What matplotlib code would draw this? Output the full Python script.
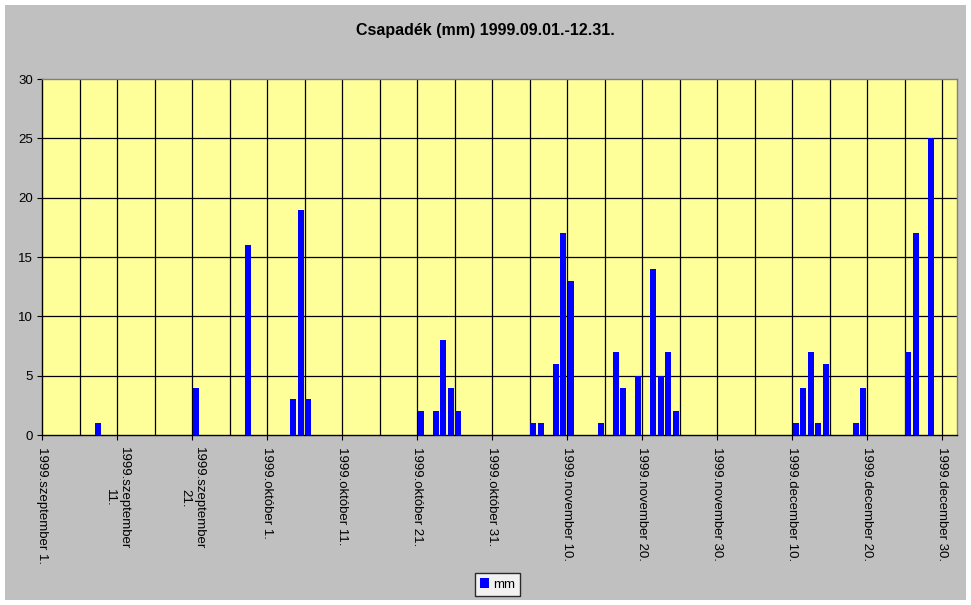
import pandas as pd
import matplotlib.pyplot as plt
from matplotlib.patches import Rectangle

plt.rcParams['font.family'] = ['Liberation Sans', 'DejaVu Sans']

# rainy days (mm), 1999.09.01 - 12.31
rain_dates = ["1999-09-08", "1999-09-21", "1999-09-28",
              "1999-10-04", "1999-10-05", "1999-10-06",
              "1999-10-21", "1999-10-23", "1999-10-24", "1999-10-25", "1999-10-26",
              "1999-11-05", "1999-11-06", "1999-11-08", "1999-11-09", "1999-11-10",
              "1999-11-14", "1999-11-16", "1999-11-17", "1999-11-19",
              "1999-11-21", "1999-11-22", "1999-11-23", "1999-11-24",
              "1999-12-10", "1999-12-11", "1999-12-12", "1999-12-13", "1999-12-14",
              "1999-12-18", "1999-12-19", "1999-12-25", "1999-12-26", "1999-12-28"]
rain_mm = [1, 4, 16,
           3, 19, 3,
           2, 2, 8, 4, 2,
           1, 1, 6, 17, 13,
           1, 7, 4, 5,
           14, 5, 7, 2,
           1, 4, 7, 1, 6,
           1, 4, 7, 17, 25]

tick_labels = ["1999.szeptember 1.", "1999.szeptember\n11.", "1999.szeptember\n21.",
               "1999.október 1.", "1999.október 11.", "1999.október 21.",
               "1999.október 31.", "1999.november 10.", "1999.november 20.",
               "1999.november 30.", "1999.december 10.", "1999.december 20.",
               "1999.december 30."]

start = pd.Timestamp("1999-09-01")
days = pd.date_range(start, "1999-12-31", freq="D")
series = pd.Series(0.0, index=days)
series[pd.to_datetime(rain_dates)] = rain_mm
day_idx = (series.index - start).days

W, H = 971, 605
fig = plt.figure(figsize=(W / 100, H / 100), dpi=100, facecolor="white")
fig.patches.append(Rectangle((5 / W, 5 / H), 961 / W, 595 / H, transform=fig.transFigure,
                             facecolor="#c0c0c0", edgecolor="none", zorder=-10))

ax = fig.add_axes([42 / W, (H - 435) / H, 915 / W, 356 / H])
ax.set_facecolor("#ffff99")
ax.bar(day_idx + 0.5, series.values, width=0.76, color="#0000ff", label="mm", zorder=3)

ax.set_xlim(0, len(days))
ax.set_ylim(0, 30)
ax.set_yticks(range(0, 31, 5))
ax.set_xticks(range(0, len(days), 10))
ax.set_xticklabels(tick_labels, rotation=270, ha="center", va="top",
                   multialignment="center")
ax.tick_params(axis="both", which="major", direction="out", length=3.5, width=0.8,
               labelsize=9.5, color="black")
ax.tick_params(axis="x", which="major", pad=5)
ax.tick_params(axis="y", which="major", pad=3)

# gridlines every 5 days and every 5 mm
for d in range(5, len(days), 5):
    ax.axvline(d, color="black", linewidth=0.9, zorder=1)
for v in range(5, 30, 5):
    ax.axhline(v, color="black", linewidth=0.9, zorder=1)

for side in ["top", "right"]:
    ax.spines[side].set_color("#808080")
    ax.spines[side].set_linewidth(1.0)
for side in ["left", "bottom"]:
    ax.spines[side].set_color("black")
    ax.spines[side].set_linewidth(1.0)

fig.text(485 / W, 1 - 31 / H, "Csapadék (mm) 1999.09.01.-12.31.", ha="center", va="center",
         fontsize=11.5, fontweight="bold")

leg = fig.legend(loc="center", bbox_to_anchor=(497.5 / W, 1 - 584.5 / H), fontsize=9.5,
                 frameon=True, fancybox=False, handlelength=0.7, handleheight=0.7,
                 handletextpad=0.3, borderpad=0.4, borderaxespad=0)
leg.get_frame().set_edgecolor("black")
leg.get_frame().set_facecolor("white")
leg.get_frame().set_linewidth(1.0)

fig.savefig("out.png", dpi=100)
